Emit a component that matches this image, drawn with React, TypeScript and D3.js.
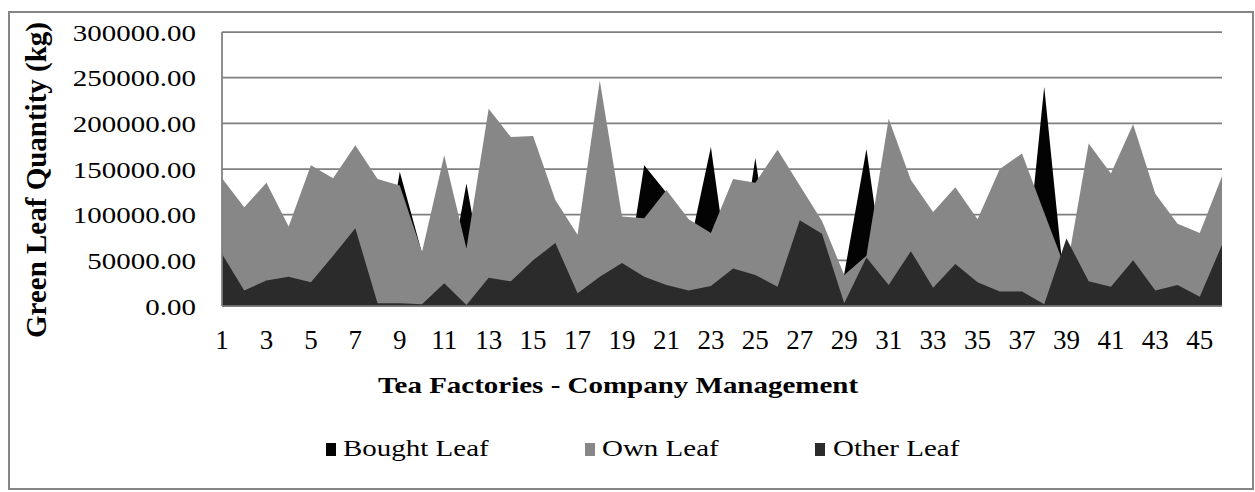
import React from 'react';
import * as d3 from 'd3';

// Tea factories under company management
const factories = [
  1, 2, 3, 4, 5, 6, 7, 8, 9, 10, 11, 12, 13, 14, 15, 16, 17, 18, 19, 20, 21, 22, 23,
  24, 25, 26, 27, 28, 29, 30, 31, 32, 33, 34, 35, 36, 37, 38, 39, 40, 41, 42, 43, 44, 45, 46,
];

// Green leaf quantity (kg)
const boughtLeaf = [
  0, 0, 0, 0, 0, 0, 0, 0, 147000, 58000, 0, 134000, 0, 0, 0, 0, 0, 0, 0, 154000, 124000, 60000, 174000,
  0, 162000, 0, 0, 0, 35000, 172000, 0, 0, 0, 0, 0, 0, 0, 240000, 0, 0, 0, 0, 0, 0, 0, 0,
];
const ownLeaf = [
  140000, 108000, 135000, 87000, 154000, 140000, 176000, 139000, 132000, 59000, 165000, 63000, 216000,
  185000, 186000, 116000, 78000, 247000, 98000, 96000, 127000, 95000, 80000, 139000, 135000, 171000,
  132000, 93000, 34000, 55000, 205000, 138000, 103000, 130000, 95000, 150000, 167000, 102000, 38000,
  178000, 145000, 199000, 123000, 90000, 80000, 142000,
];
const otherLeaf = [
  57000, 17000, 28000, 32000, 26000, 55000, 85000, 3000, 3000, 2000, 25000, 1000, 31000, 27000, 50000,
  69000, 14000, 32000, 47000, 32000, 23000, 17000, 22000, 41000, 34000, 21000, 94000, 79000, 3000,
  53000, 23000, 60000, 20000, 46000, 26000, 16000, 16000, 2000, 74000, 27000, 21000, 50000, 17000,
  23000, 10000, 67000,
];

const xTickLabels = [1, 3, 5, 7, 9, 11, 13, 15, 17, 19, 21, 23, 25, 27, 29, 31, 33, 35, 37, 39, 41, 43, 45];

const series = [
  { name: 'Bought Leaf', values: boughtLeaf, color: '#030303' },
  { name: 'Own Leaf', values: ownLeaf, color: '#878787' },
  { name: 'Other Leaf', values: otherLeaf, color: '#2b2b2b' },
];

const FONT = "'Liberation Serif', 'Times New Roman', serif";

const SText = ({ x, y, anchor = 'start', size = 23, weight = 'normal', sx = 1.26, children }: any) => (
  <text
    transform={`translate(${x},${y}) scale(${sx},1)`}
    textAnchor={anchor}
    fontSize={size}
    fontWeight={weight}
    fontFamily={FONT}
    fill="#000"
  >
    {children}
  </text>
);

export default function App() {
  const width = 1255;
  const height = 492;
  const plot = { left: 222, right: 1222, top: 32, bottom: 306 };

  const x = d3.scalePoint<number>().domain(factories).range([plot.left, plot.right]);
  const y = d3.scaleLinear().domain([0, 300000]).range([plot.bottom, plot.top]);
  const yTicks = y.ticks(6);
  const fmt = d3.format('.2f');

  const area = d3
    .area<number>()
    .x((_, i) => x(factories[i]) as number)
    .y0(y(0))
    .y1((d) => y(d));

  const legendItems = [
    { sq: 326, tx: 343 },
    { sq: 585, tx: 602 },
    { sq: 815, tx: 833 },
  ];

  return (
    <div style={{ position: 'absolute', left: 0, top: 0 }}>
      <svg width={width} height={height} viewBox={`0 0 ${width} ${height}`}>
        <rect x={0} y={0} width={width} height={height} fill="#fff" />
        <rect x={9} y={12} width={1244} height={477} fill="#fff" stroke="#858585" strokeWidth={2} />

        {/* gridlines */}
        {yTicks.map((t) => (
          <line key={t} x1={plot.left} x2={plot.right} y1={y(t)} y2={y(t)} stroke="#7f7f7f" strokeWidth={1.75} />
        ))}

        {/* areas, first series at the back */}
        {series.map((s) => (
          <path key={s.name} d={area(s.values) as string} fill={s.color} />
        ))}

        {/* axis lines */}
        <line x1={plot.left} x2={plot.left} y1={plot.top} y2={plot.bottom} stroke="#7f7f7f" strokeWidth={1.75} />
        <line x1={plot.left} x2={plot.right} y1={plot.bottom} y2={plot.bottom} stroke="#7f7f7f" strokeWidth={1.75} />

        {/* y tick labels */}
        {yTicks.map((t) => (
          <SText key={t} x={196} y={y(t) + 8.5} anchor="end">
            {fmt(t)}
          </SText>
        ))}

        {/* x tick labels */}
        {xTickLabels.map((c) => (
          <SText key={c} x={x(c)} y={349} anchor="middle" size={27} sx={1}>
            {c}
          </SText>
        ))}

        {/* axis titles */}
        <text
          transform={`translate(46,180) rotate(-90)`}
          textAnchor="middle"
          fontSize={29}
          fontWeight="bold"
          fontFamily={FONT}
        >
          Green Leaf Quantity (kg)
        </text>
        <SText x={618} y={393} anchor="middle" weight="bold">
          Tea Factories - Company Management
        </SText>

        {/* legend */}
        {series.map((s, i) => (
          <g key={s.name}>
            <rect x={legendItems[i].sq} y={443} width={10} height={13} fill={s.color} />
            <SText x={legendItems[i].tx} y={456}>
              {s.name}
            </SText>
          </g>
        ))}
      </svg>
    </div>
  );
}
